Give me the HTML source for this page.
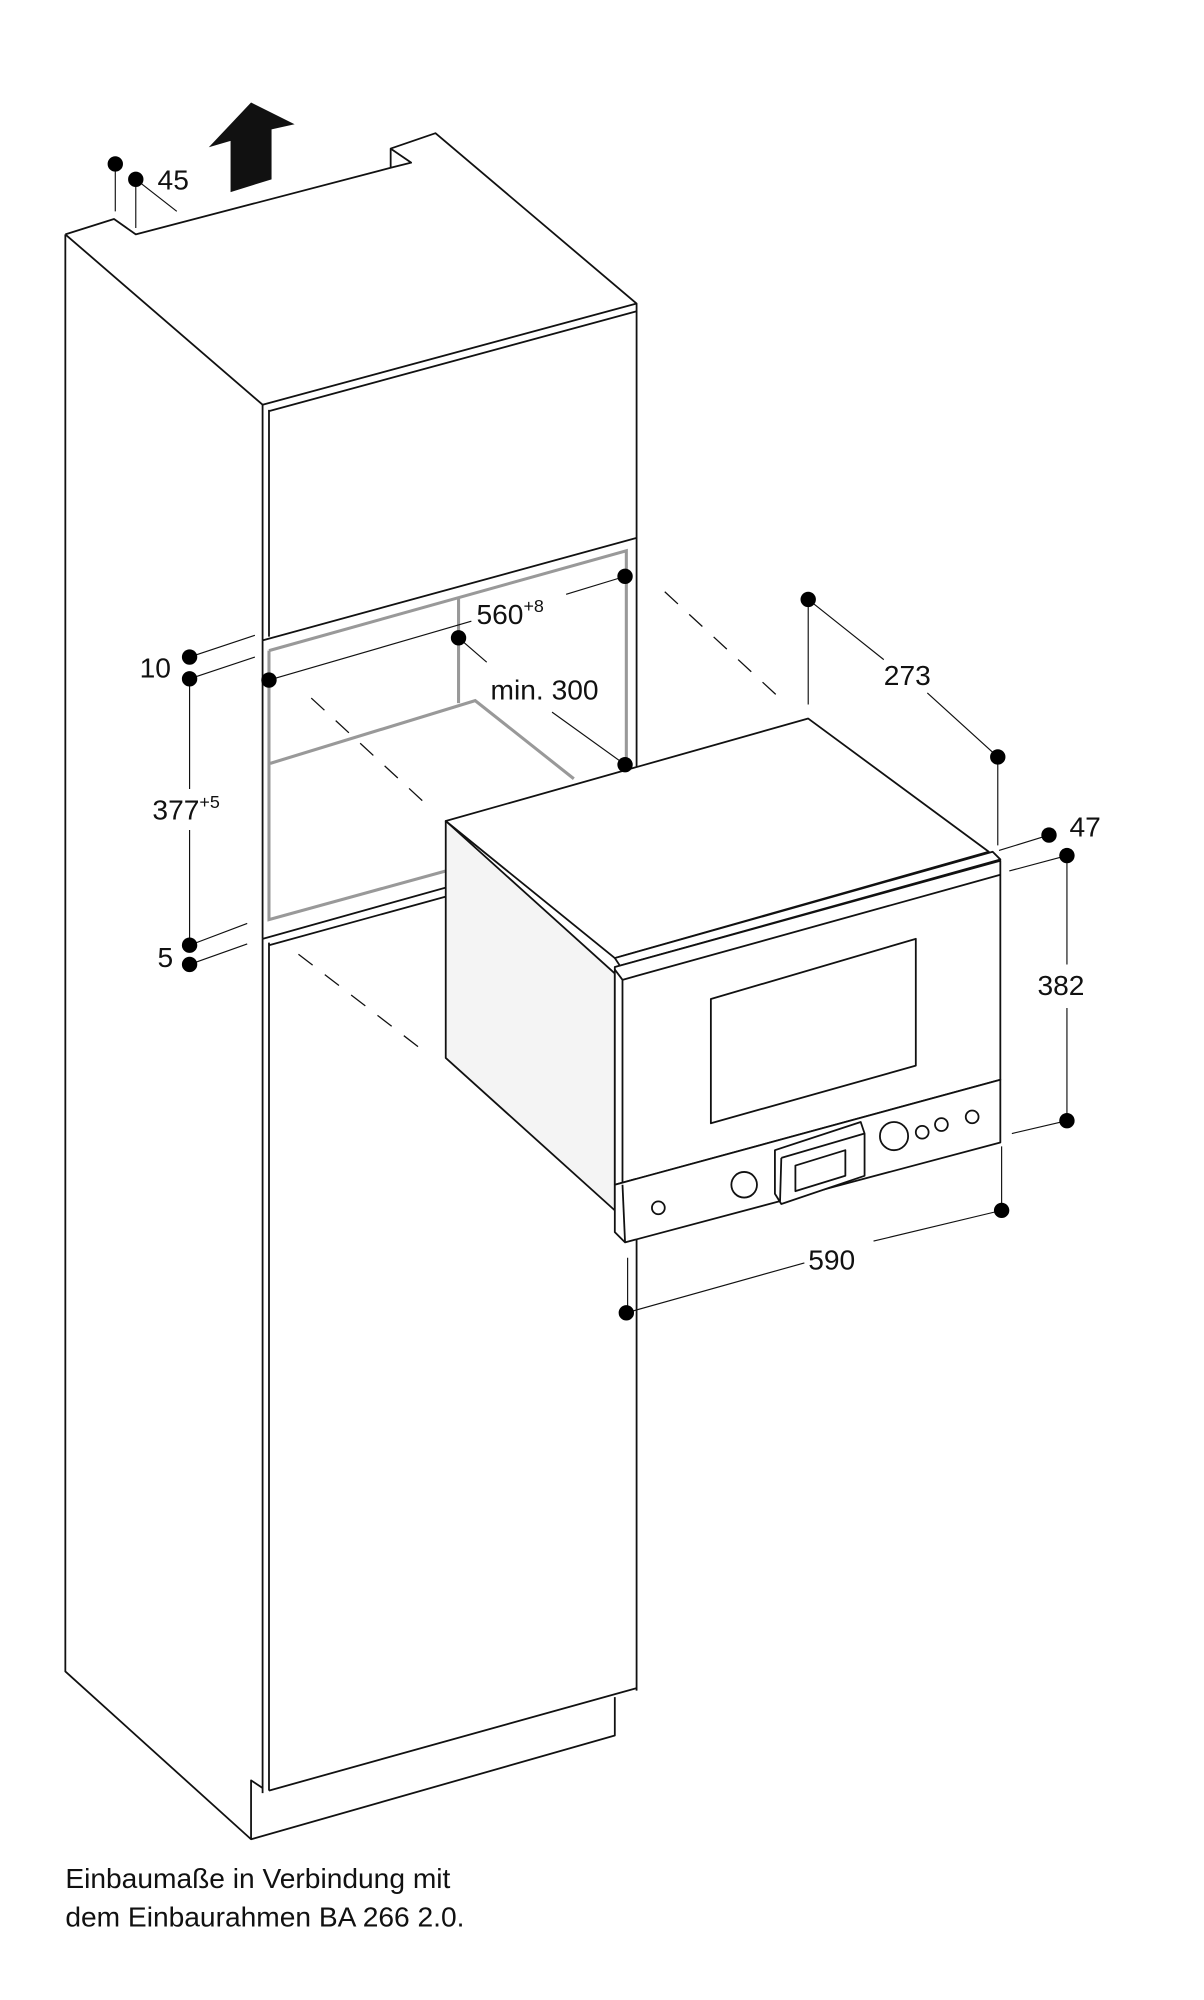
<!DOCTYPE html>
<html><head><meta charset="utf-8"><style>
html,body{margin:0;padding:0;background:#fff}
svg{display:block}
text{font-family:"Liberation Sans",sans-serif;fill:#111}
</style></head><body>
<svg width="1204" height="2000" viewBox="0 0 940 1561.5" xmlns="http://www.w3.org/2000/svg">
<g fill="none" stroke="#111" stroke-width="1.4" stroke-linejoin="round">
<path d="M51,183 L89,171 L106,183 L305,131 L305,116 L340,104 L497,237 L497,1320"/>
<path d="M305,131 L321,127 L305,116"/>
<path d="M51,183 L51,1305 L196,1436 L480,1355 L480,1325"/>
<path d="M51,183 L205,316"/>
<path d="M196,1436 L196,1390 L205,1396"/>
<path d="M205,316 L205,500 M210,320 L210,497 M205,316 L497,237 M210,321 L497,243 M205,500 L497,420"/>
<path d="M205,733 L205,1400 M210,736 L210,1398 M205,733 L348,693 M210,738 L348,700 M210,1398 L497,1318"/>
<path d="M205,500 L205,733"/>
</g>
<g fill="none" stroke="#999" stroke-width="2.4">
<path d="M210,508 L489,430 L489,598"/>
<path d="M210,508 L210,718 L348,680"/>
<path d="M358,467 L358,549 M211,596 L371,547 L448,608"/>
</g>
<g stroke="#111" stroke-width="1" stroke-dasharray="14,12">
<path d="M243,545 L335,630 M519,462 L612,548 M233,745 L330,820"/>
</g>
<polygon points="180,150 180,110 163,115 196,80 230,97 212,101 212,140" fill="#111"/>
<g stroke="#111" stroke-width="1.4" stroke-linejoin="round">
<path d="M348,641 L480,760 L480,945 L348,826 Z" fill="#f4f4f4"/>
<path d="M348,641 L631,561 L772,665 L480,748 Z" fill="#fff"/>
<path d="M480,748 L775,665 L781,671 L484,754 Z" fill="#fff"/>
<path d="M480,755 L781,672 L781,843 L480,925 Z" fill="#fff"/>
<path d="M480,757 L486,765 L486,925 M486,765 L781,683" fill="none"/>
<path d="M555,780 L715,733 L715,832 L555,877 Z" fill="#fff"/>
<path d="M480,925 L781,843 L781,892 L488,970 L480,962 Z" fill="#fff"/>
<path d="M486,925 L488,970" fill="none"/>
<path d="M605,898 L672,876 L675,885 L675,918 L610,940 L605,932 Z" fill="#fff"/>
<path d="M610,904 L675,885 M609,938 L610,904" fill="none"/>
<path d="M621,910 L660,898 L660,918 L621,930 Z" fill="#fff"/>
<g fill="#fff">
<circle cx="581" cy="925" r="10"/><circle cx="698" cy="887" r="11"/>
<circle cx="720" cy="884" r="5"/><circle cx="735" cy="878" r="5"/><circle cx="759" cy="872" r="5"/>
<circle cx="514" cy="943" r="5"/>
</g>
</g>
<g stroke="#111" stroke-width="0.9" fill="none">
<path d="M90,128 L90,165 M106,140 L106,178 M106,140 L138,165"/>
<path d="M148,513 L199,496 M148,530 L199,513 M148,530 L148,616 M148,648 L148,738 M148,738 L193,721 M148,753 L193,737"/>
<path d="M210,531 L368,485 M442,464 L488,450"/>
<path d="M358,498 L380,517 M431,556 L488,597"/>
<path d="M631,468 L631,550 M779,591 L779,660 M631,468 L690,515 M724,541 L779,591"/>
<path d="M780,664 L819,652 M788,680 L833,668 M833,668 L833,753 M833,787 L833,875 M790,885 L833,875"/>
<path d="M489,1025 L628,986 M682,969 L782,945 M782,895 L782,945 M490,982 L490,1025"/>
</g>
<g fill="#000">
<circle cx="90" cy="128" r="6"/><circle cx="106" cy="140" r="6"/>
<circle cx="148" cy="513" r="6"/><circle cx="148" cy="530" r="6"/>
<circle cx="148" cy="738" r="6"/><circle cx="148" cy="753" r="6"/>
<circle cx="210" cy="531" r="6"/><circle cx="488" cy="450" r="6"/>
<circle cx="358" cy="498" r="6"/><circle cx="488" cy="597" r="6"/>
<circle cx="631" cy="468" r="6"/><circle cx="779" cy="591" r="6"/>
<circle cx="819" cy="652" r="6"/><circle cx="833" cy="668" r="6"/>
<circle cx="833" cy="875" r="6"/>
<circle cx="489" cy="1025" r="6"/><circle cx="782" cy="945" r="6"/>
</g>
<g font-size="22">
<text x="123" y="148">45</text>
<text x="109" y="529">10</text>
<text x="123" y="755">5</text>
<text x="119" y="640">377<tspan font-size="14" dy="-9">+5</tspan></text>
<text x="372" y="487">560<tspan font-size="14" dy="-9">+8</tspan></text>
<text x="383" y="546">min. 300</text>
<text x="690" y="535">273</text>
<text x="835" y="653">47</text>
<text x="810" y="777">382</text>
<text x="631" y="991">590</text>
<text x="51" y="1474">Einbaumaße in Verbindung mit</text>
<text x="51" y="1504">dem Einbaurahmen BA 266 2.0.</text>
</g>
</svg>
</body></html>
